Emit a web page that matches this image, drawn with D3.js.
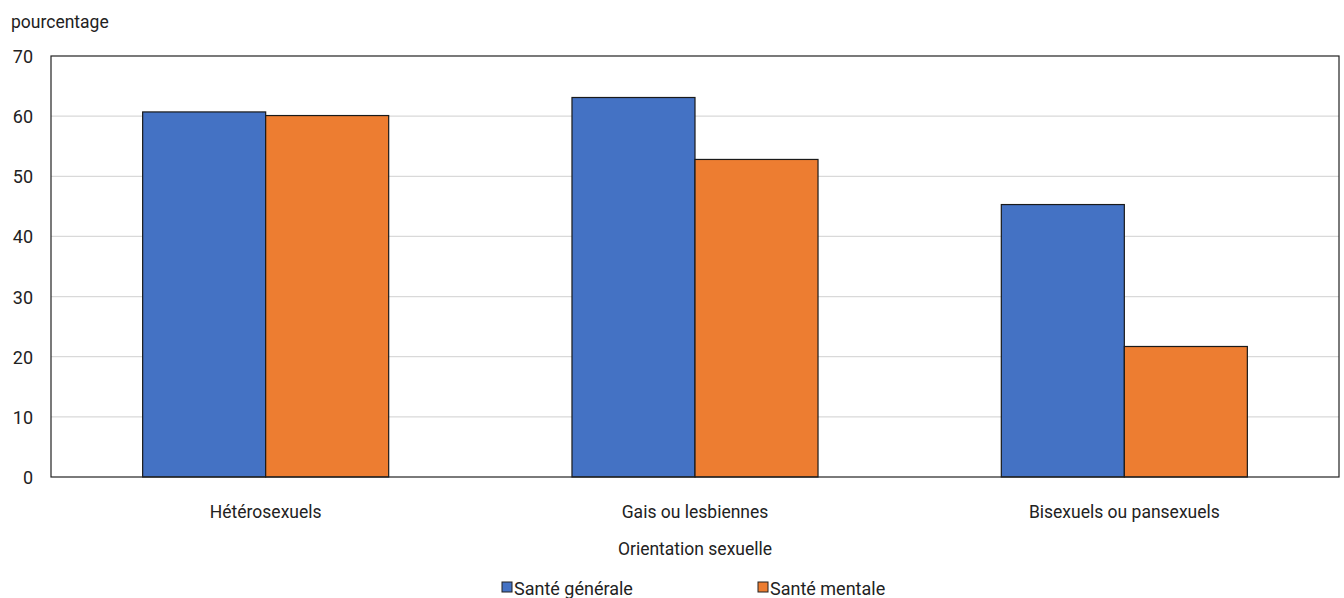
<!DOCTYPE html>
<html><head><meta charset="utf-8">
<script src="https://cdn.jsdelivr.net/npm/d3@7"></script>
<style>
body{margin:0;background:#fff;}
text{font-family:"Roboto",sans-serif;fill:#222;}
</style></head>
<body><svg id="c" width="1344" height="598"></svg>
<script>
const categories = ["Hétérosexuels","Gais ou lesbiennes","Bisexuels ou pansexuels"];
const seriesNames = ["Santé générale","Santé mentale"];
const santeGenerale = [60.7, 63.1, 45.3];
const santeMentale = [60.1, 52.8, 21.7];
const yTicks = [0,10,20,30,40,50,60,70];
const colors = ["#4472c4","#ed7d31"];

const svg = d3.select("#c");
const m = {l:51, r:1339, t:56, b:477};
const x = d3.scaleBand().domain(categories).range([m.l, m.r]).padding(0);
const xs = d3.scaleBand().domain(seriesNames).range([0, x.bandwidth()]).paddingInner(0).paddingOuter(0.745);
const y = d3.scaleLinear().domain([0,70]).range([m.b, m.t]);

svg.append("g").selectAll("line").data(yTicks.filter(d=>d>0&&d<70)).join("line")
  .attr("x1", m.l).attr("x2", m.r).attr("y1", d=>y(d)).attr("y2", d=>y(d))
  .attr("stroke", "#d9d9d9").attr("stroke-width", 1.2);

const data = categories.map((c,i)=>({c, vals:[santeGenerale[i], santeMentale[i]]}));
const g = svg.append("g");
data.forEach(d=>{
  d.vals.forEach((v,j)=>{
    g.append("rect")
      .attr("x", x(d.c)+xs(seriesNames[j]))
      .attr("width", xs.bandwidth())
      .attr("y", y(v)).attr("height", y(0)-y(v))
      .attr("fill", colors[j]).attr("stroke", "#1a1a1a").attr("stroke-width", 1.2);
  });
});

svg.append("rect").attr("x", m.l).attr("y", m.t).attr("width", m.r-m.l).attr("height", m.b-m.t)
  .attr("fill","none").attr("stroke","#222").attr("stroke-width",1.2);

const yAxis = d3.axisLeft(y).tickValues(yTicks).tickSize(0).tickPadding(18);
const ya = svg.append("g").attr("transform", `translate(${m.l},0)`).call(yAxis);
ya.select(".domain").remove();
ya.selectAll("text").attr("font-size", 18).attr("font-family", null).attr("dy", "0.36em");

const xAxis = d3.axisBottom(x).tickSize(0).tickPadding(29);
const xa = svg.append("g").attr("transform", `translate(0,${m.b})`).call(xAxis);
xa.select(".domain").remove();
xa.selectAll("text").attr("font-size", 17.5).attr("font-family", null);

svg.append("text").attr("x", 11).attr("y", 28).attr("font-size", 17.5).text("pourcentage");
svg.append("text").attr("x", (m.l+m.r)/2).attr("y", 555).attr("text-anchor","middle").attr("font-size", 17.5).text("Orientation sexuelle");

const legX = [502, 758];
seriesNames.forEach((s,i)=>{
  svg.append("rect").attr("x", legX[i]).attr("y", 582).attr("width", 10).attr("height", 10)
    .attr("fill", colors[i]).attr("stroke", "#222").attr("stroke-width", 1);
  svg.append("text").attr("x", legX[i]+12).attr("y", 595).attr("font-size", 18).text(s);
});
</script></body></html>
